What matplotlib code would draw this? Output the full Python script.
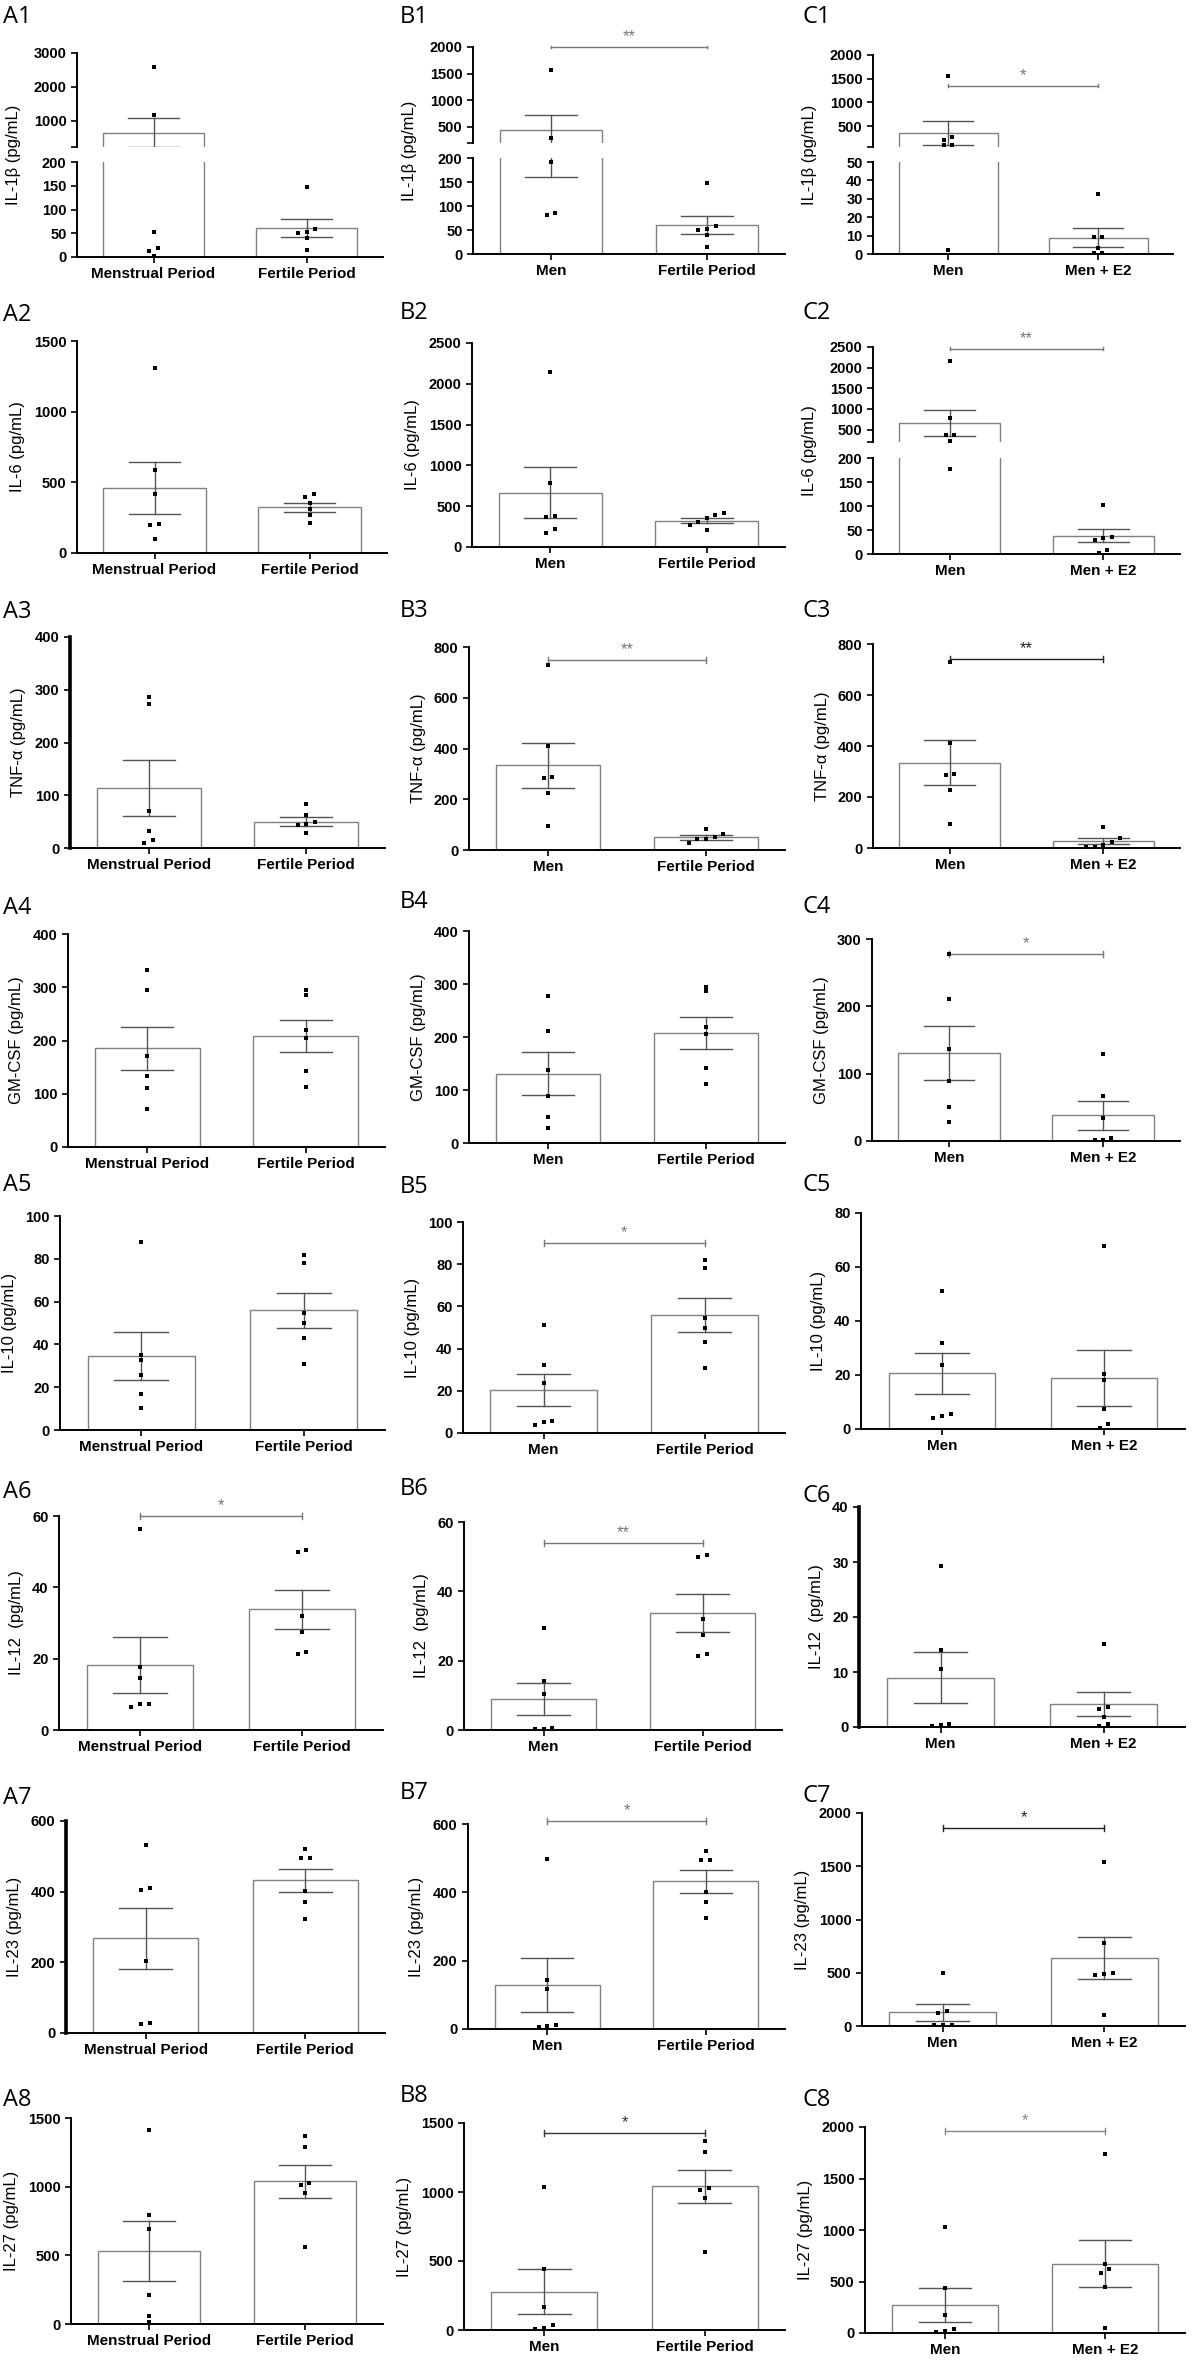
import numpy as np
import matplotlib
matplotlib.use('Agg')
import matplotlib.pyplot as plt

plt.rcParams['font.family'] = ['Liberation Sans', 'DejaVu Sans']
plt.rcParams['font.weight'] = 'bold'

# ---------------- data ----------------
cytokines = ['IL-1\u03b2', 'IL-6', 'TNF-\u03b1', 'GM-CSF', 'IL-10', 'IL-12 ', 'IL-23', 'IL-27']

menstrual_mean = [645, 462, 113, 185, 34.4, 18.2, 268, 531]
menstrual_sem = [430, 185, 53, 41, 11.2, 7.8, 87, 221]
menstrual_pts = [[2580, 1170, 53, 20, 13, 2],
                 [1310, 590, 414, 205, 200, 100],
                 [286, 273, 71, 32, 16, 9],
                 [332, 294, 171, 133, 111, 72],
                 [88, 35, 32.6, 25.5, 16.7, 10.3],
                 [56.4, 17.7, 14.5, 7.4, 7.2, 6.4],
                 [533, 410, 405, 203, 28, 26],
                 [1411, 797, 692, 210, 61, 11]]

fertile_mean = [60.5, 322, 50, 208, 56, 33.8, 432, 1040]
fertile_sem = [18.5, 32, 9, 30, 8.2, 5.4, 33, 119]
fertile_pts = [[148, 59, 53, 51, 39, 14],
               [420, 395, 355, 310, 268, 213],
               [84, 62, 50, 45, 43, 28],
               [295, 286, 219, 205, 142, 112],
               [82, 78, 54.6, 50, 43, 31],
               [50.5, 50, 32, 27.4, 21.9, 21.4],
               [522, 496, 495, 401, 371, 324],
               [1372, 1289, 1029, 1013, 957, 564]]

men_mean = [444, 665, 334, 131, 20.3, 8.9, 129, 278]
men_sem = [283, 310, 88, 40, 7.7, 4.7, 78, 165]
men_pts = [[1564, 288, 191, 85, 81],
           [2150, 780, 375, 365, 225, 177],
           [729, 410, 289, 285, 226, 94],
           [277, 211, 137, 89, 50, 28],
           [51, 32, 23.7, 5.7, 5, 4],
           [29.3, 14, 10.5, 0.5, 0.3, 0.2],
           [498, 144, 118, 13, 8, 5],
           [1033, 440, 170, 38, 16, 5]]

men_c_mean = [359, 660, 335, 131, 20.6, 9, 128, 273]
men_c_sem = [247, 310, 88, 40, 7.7, 4.7, 80, 166]
men_c_pts = [[1563, 275, 210, 104, 100, 2]] + men_pts[1:]

e2_mean = [8.9, 38, 27, 38, 18.9, 4.15, 643, 672]
e2_sem = [5, 13.5, 12.5, 21, 10.3, 2.2, 197, 229]
e2_pts = [[32.7, 9.5, 9, 3, 0.7, 0.5],
          [103, 36, 33, 30, 8, 2],
          [84, 38, 25, 12, 5, 2],
          [129, 66.6, 34, 5, 2, 1],
          [67.6, 20.3, 18.3, 7.3, 1.7, 0.5],
          [15.1, 3.6, 3.2, 1.8, 0.5, 0.2],
          [1536, 779, 493, 490, 480, 107],
          [1734, 672, 620, 583, 450, 52]]

# significance brackets: (stars, y, colour)
sig_a = [None, None, None, None, None, ('*', 60, '#777777'), None, None]
sig_b = [('**', 2000, '#777777'), None, ('**', 750, '#777777'), None,
         ('*', 90, '#777777'), ('**', 54, '#777777'), ('*', 610, '#777777'), ('*', 1430, '#333333')]
sig_c = [('*', 1350, '#777777'), ('**', 2460, '#777777'), ('**', 740, '#222222'), ('*', 278, '#777777'),
         None, None, ('*', 1860, '#222222'), ('*', 1965, '#888888')]

# axis ranges
ylim_a = [None, 1500, 400, 400, 100, 60, 600, 1500]
step_a = [None, 500, 100, 100, 20, 20, 200, 500]
ylim_b = [None, 2500, 800, 400, 100, 60, 600, 1500]
step_b = [None, 500, 200, 100, 20, 20, 200, 500]
ylim_c = [None, None, 800, 300, 80, 40, 2000, 2000]
step_c = [None, None, 200, 100, 20, 10, 500, 500]

# broken axes: lower top, lower step, upper bottom, upper top, upper step
broken = {('A', 0): (200, 50, 220, 3000, 1000),
          ('B', 0): (200, 50, 200, 2000, 500),
          ('C', 0): (50, 10, 60, 2000, 500),
          ('C', 1): (200, 50, 200, 2500, 500)}

# ---------------- layout (pixels) ----------------
W, H = 1192, 2361
rects_a = [(77, 383, 53, 257), (77, 387, 341, 553), (70, 385, 637, 848), (68, 385, 934, 1147),
           (60, 385, 1216, 1430), (59, 383, 1516, 1730), (66, 385, 1821, 2033), (71, 383, 2118, 2324)]
rects_b = [(473, 785, 47, 254), (472, 785, 343, 547), (469, 785, 647, 850), (469, 785, 931, 1143),
           (463, 785, 1222, 1433), (464, 782, 1522, 1730), (468, 785, 1824, 2029), (464, 785, 2123, 2330)]
rects_c = [(873, 1173, 55, 254), (873, 1180, 347, 554), (873, 1180, 644, 848), (872, 1180, 939, 1141),
           (861, 1185, 1213, 1429), (859, 1185, 1507, 1727), (862, 1185, 1813, 2026), (865, 1185, 2127, 2333)]
split_px = {('A', 0): (147, 162), ('B', 0): (143, 158), ('C', 0): (147, 162), ('C', 1): (442, 458)}
lab_y_a = [17, 315, 612, 908, 1185, 1492, 1798, 2100]
lab_y_b = [17, 313, 611, 902, 1187, 1489, 1793, 2096]
lab_y_c = [17, 313, 611, 907, 1185, 1496, 1796, 2100]
thick_left = {('A', 2), ('A', 6), ('C', 5)}

fig = plt.figure(figsize=(W / 100, H / 100), dpi=100)


def rect(l, r, t, b):
    return [l / W, 1 - b / H, (r - l) / W, (b - t) / H]


def swarm(vals, to_frac):
    vals = np.asarray(vals, float)
    f = np.array([to_frac(v) for v in vals])
    order = np.argsort(f)
    offs = np.zeros(len(vals))
    groups, cur = [], [order[0]]
    for i in order[1:]:
        if f[i] - f[cur[-1]] < 0.022:
            cur.append(i)
        else:
            groups.append(cur)
            cur = [i]
    groups.append(cur)
    for g in groups:
        k = len(g)
        offs[g] = (np.arange(k) - (k - 1) / 2) * 0.055
    return offs


def style(ax, thick=False):
    for s in ['top', 'right']:
        ax.spines[s].set_visible(False)
    ax.spines['left'].set_linewidth(2.6 if thick else 1.4)
    ax.spines['bottom'].set_linewidth(1.4)
    ax.tick_params(axis='both', width=1.2, length=4, labelsize=10.5)
    ax.set_xlim(-0.5, 1.5)
    ax.set_facecolor('none')


def draw(ax, means, sems, pts, to_frac, lo, hi):
    x = [0, 1]
    ax.bar(x, means, width=0.66, color='white', edgecolor='#808080', linewidth=1.0, zorder=1)
    for xi, m, s in zip(x, means, sems):
        ax.plot([xi, xi], [m - s, m + s], color='#555555', lw=1.0, zorder=2)
        for yc in (m - s, m + s):
            ax.plot([xi - 0.165, xi + 0.165], [yc, yc], color='#555555', lw=1.0, zorder=2)
    for xi, p in zip(x, pts):
        offs = swarm(p, to_frac)
        p = np.asarray(p, float)
        keep = (p >= lo) & (p <= hi)
        ax.scatter(xi + offs[keep], p[keep], s=5, marker='s', color='black',
                   linewidths=0, zorder=3)


def bracket(ax, sig, span):
    txt, y, col = sig
    d = 0.015 * span
    ax.plot([0, 1], [y, y], color=col, lw=1.0, clip_on=False)
    ax.plot([0, 0], [y - d, y + d], color=col, lw=1.0, clip_on=False)
    ax.plot([1, 1], [y - d, y + d], color=col, lw=1.0, clip_on=False)
    ax.annotate(txt, xy=(0.5, y), xytext=(0, 2), textcoords='offset points', ha='center',
                va='bottom', fontsize=12, fontweight='normal', color=col, annotation_clip=False)


columns = [
    ('A', menstrual_mean, menstrual_sem, menstrual_pts, fertile_mean, fertile_sem, fertile_pts,
     ['Menstrual Period', 'Fertile Period'], rects_a, ylim_a, step_a, sig_a, lab_y_a, 3),
    ('B', men_mean, men_sem, men_pts, fertile_mean, fertile_sem, fertile_pts,
     ['Men', 'Fertile Period'], rects_b, ylim_b, step_b, sig_b, lab_y_b, 400),
    ('C', men_c_mean, men_c_sem, men_c_pts, e2_mean, e2_sem, e2_pts,
     ['Men', 'Men + E2'], rects_c, ylim_c, step_c, sig_c, lab_y_c, 803),
]

for (col, m1, s1, p1, m2, s2, p2, cats, rects, ylims, steps, sigs, laby, labx) in columns:
    for i in range(8):
        means = [m1[i], m2[i]]
        sems = [s1[i], s2[i]]
        pts = [p1[i], p2[i]]
        l, r, t, b = rects[i]
        ylabel = cytokines[i] + ' (pg/mL)'
        if (col, i) in broken:
            lt, lstep, ub, ut, ustep = broken[(col, i)]
            sub, slt = split_px[(col, i)]
            ax_up = fig.add_axes(rect(l, r, t, sub))
            ax_lo = fig.add_axes(rect(l, r, slt, b))

            def to_frac(v, lt=lt, ub=ub, ut=ut):
                return v / lt * 0.5 if v <= lt else 0.55 + (v - ub) / (ut - ub) * 0.45

            style(ax_up)
            style(ax_lo)
            draw(ax_up, means, sems, pts, to_frac, ub, ut)
            draw(ax_lo, means, sems, pts, to_frac, 0, lt)
            ax_lo.set_ylim(0, lt)
            ax_lo.set_yticks(np.arange(0, lt + 1, lstep))
            ax_up.set_ylim(ub, ut)
            up_ticks = [ub] + list(np.arange(ustep, ut + 1, ustep))
            ax_up.set_yticks(up_ticks)
            ax_up.set_yticklabels([''] + [str(int(v)) for v in up_ticks[1:]])
            ax_up.spines['bottom'].set_visible(False)
            ax_up.set_xticks([])
            ax_lo.set_xticks([0, 1])
            ax_lo.set_xticklabels(cats, fontsize=11)
            ax_lo.set_ylabel(ylabel, fontsize=12)
            ax_lo.yaxis.set_label_coords(-56 / (r - l), ((b - t) / 2) / (b - slt))
            if sigs[i]:
                bracket(ax_up, sigs[i], ut - ub)
        else:
            ax = fig.add_axes(rect(l, r, t, b))
            style(ax, (col, i) in thick_left)
            top = ylims[i]
            draw(ax, means, sems, pts, lambda v, top=top: v / top, 0, top)
            ax.set_ylim(0, top)
            ax.set_yticks(np.arange(0, top + 1, steps[i]))
            ax.set_xticks([0, 1])
            ax.set_xticklabels(cats, fontsize=11)
            ax.set_ylabel(ylabel, fontsize=12, labelpad=6)
            if sigs[i]:
                bracket(ax, sigs[i], top)
        fig.text(labx / W, 1 - laby[i] / H, f'{col}{i + 1}', fontsize=17, fontweight='normal',
                 family=['Open Sans', 'DejaVu Sans'], va='center', ha='left')

fig.savefig('out.png', dpi=100)
